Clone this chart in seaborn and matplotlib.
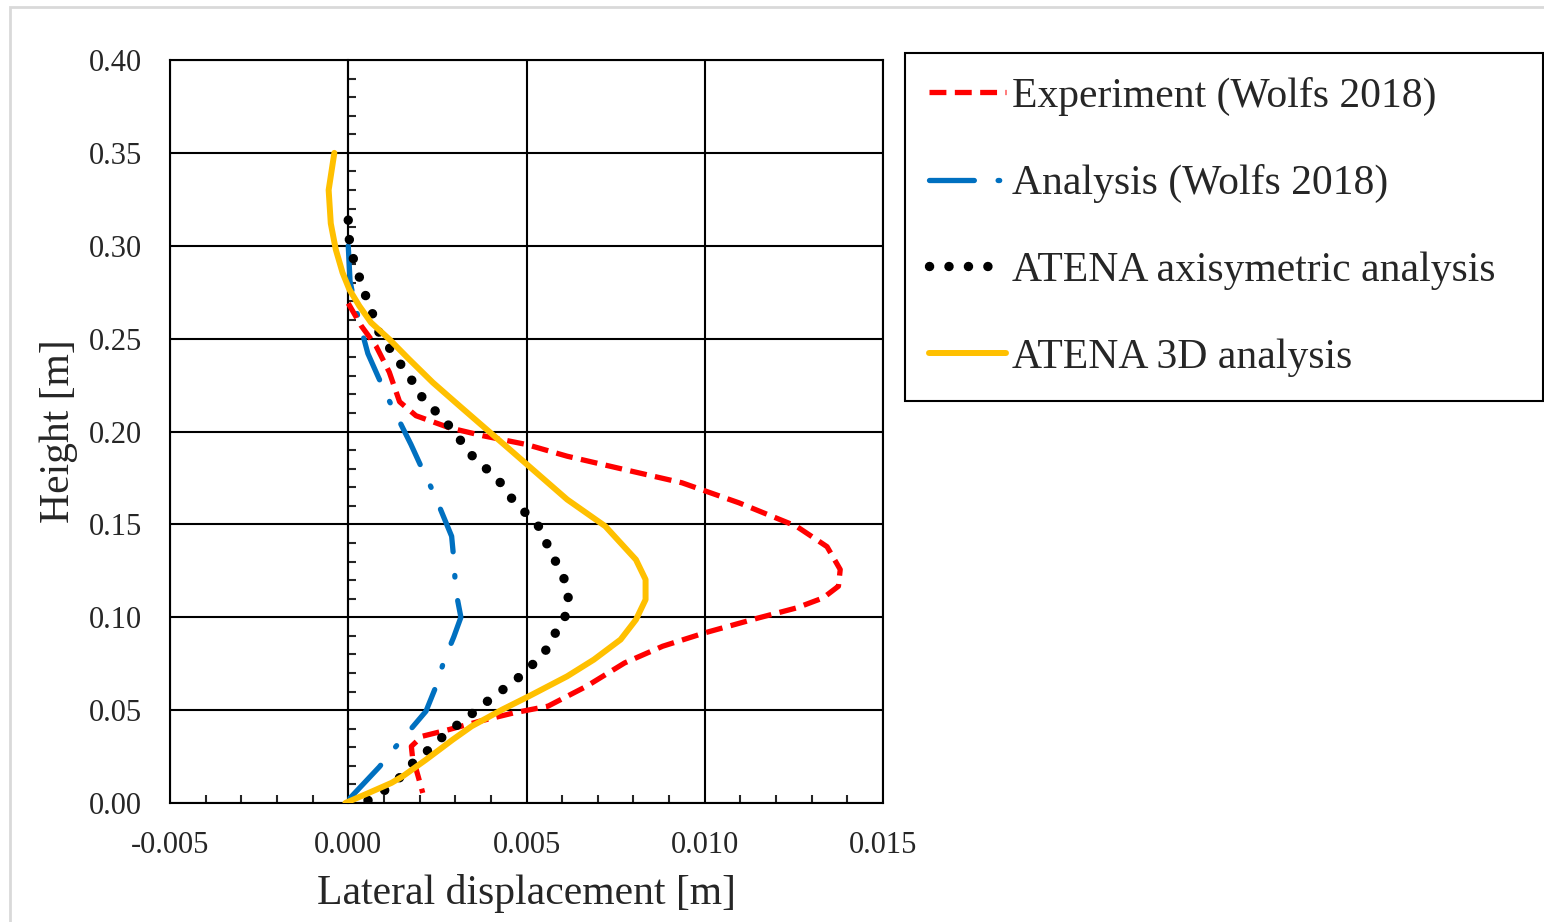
import pandas as pd
import matplotlib.pyplot as plt
import seaborn as sns
from matplotlib.ticker import MultipleLocator, FormatStrFormatter
from matplotlib.patches import Rectangle

# Experiment (Wolfs 2018)
exp_x = [0.0, 0.00036, 0.00078, 0.00115, 0.00144, 0.0019, 0.00284, 0.00378, 0.005, 0.00614,
         0.00775, 0.00936, 0.01096, 0.01257, 0.01343, 0.0138, 0.01375, 0.01332, 0.01257, 0.0115,
         0.0100, 0.00882, 0.00775, 0.00668, 0.0056, 0.00464, 0.00368, 0.00282, 0.00207, 0.00177,
         0.0018, 0.00196, 0.00209]
exp_y = [0.269, 0.257, 0.246, 0.232, 0.216, 0.2085, 0.202, 0.1977, 0.193, 0.1867,
         0.1795, 0.1724, 0.1616, 0.149, 0.138, 0.1257, 0.1167, 0.1104, 0.105, 0.0996,
         0.0916, 0.0844, 0.0754, 0.0628, 0.0521, 0.0485, 0.044, 0.0395, 0.0359, 0.0305,
         0.0251, 0.0144, 0.0054]

# Analysis (Wolfs 2018)
ana_x = [0.0, 0.00005, 0.0002, 0.00055, 0.00085, 0.00115, 0.00176, 0.00207, 0.00239, 0.0029,
         0.00297, 0.00301, 0.00316, 0.00296, 0.00269, 0.00247, 0.00218, 0.0018, 0.00134, 0.00087,
         -0.00008]
ana_y = [0.300, 0.281, 0.267, 0.242, 0.229, 0.2165, 0.193, 0.180, 0.1673, 0.1436,
         0.1293, 0.1149, 0.100, 0.0894, 0.0768, 0.0632, 0.0494, 0.0408, 0.0305, 0.0194,
         0.0]

# ATENA axisymetric analysis
axi_x = [0.0, 0.00003, 0.00014, 0.00031, 0.00048, 0.00067, 0.00084, 0.00113, 0.0014, 0.00172,
         0.00197, 0.00231, 0.00265, 0.00301, 0.00329, 0.00363, 0.00404, 0.00437, 0.00465, 0.005,
         0.00535, 0.00556, 0.00576, 0.00598, 0.00614, 0.00618, 0.00607, 0.0058, 0.00557, 0.00524,
         0.00482, 0.00439, 0.00394, 0.0035, 0.00307, 0.00264, 0.00224, 0.00181, 0.00145, 0.00102,
         0.00051]
axi_y = [0.3138, 0.3034, 0.2932, 0.2832, 0.2735, 0.264, 0.2541, 0.2457, 0.238, 0.2299,
         0.2206, 0.2138, 0.2066, 0.1995, 0.1909, 0.1837, 0.1774, 0.1702, 0.1621, 0.1557,
         0.1487, 0.140, 0.132, 0.1244, 0.1163, 0.1083, 0.0996, 0.0912, 0.0829, 0.0758,
         0.0682, 0.0618, 0.0553, 0.0485, 0.0422, 0.0355, 0.0284, 0.0215, 0.0138, 0.0068,
         0.0009]

# ATENA 3D analysis
a3d_x = [-0.00039, -0.00055, -0.00049, -0.00035, -0.00016, 0.00003, 0.00031, 0.00064, 0.00115, 0.0017,
         0.00237, 0.00312, 0.00387, 0.00455, 0.00614, 0.00721, 0.00807, 0.00834, 0.00834, 0.00807,
         0.00764, 0.00689, 0.00614, 0.00507, 0.00432, 0.00346, 0.00293, 0.00218, 0.00153, 0.00121,
         0.00057, -0.00008]
a3d_y = [0.35, 0.33, 0.312, 0.298, 0.2855, 0.2765, 0.2676, 0.2586, 0.2497, 0.239,
         0.2264, 0.2138, 0.2013, 0.19, 0.1634, 0.149, 0.131, 0.1203, 0.1095, 0.0987,
         0.088, 0.0772, 0.0682, 0.0575, 0.0503, 0.0413, 0.0341, 0.0233, 0.0144, 0.0108,
         0.0054, 0.0]

labels = ["Experiment (Wolfs 2018)", "Analysis (Wolfs 2018)",
          "ATENA axisymetric analysis", "ATENA 3D analysis"]

sns.set_style("white")
plt.rcParams['font.family'] = ['Liberation Serif', 'DejaVu Serif']
plt.rcParams['axes.unicode_minus'] = False

fig = plt.figure(figsize=(15.44, 9.22), dpi=100)
ax = fig.add_axes([170 / 1544, 1 - 803 / 922, 713 / 1544, 743 / 922])

sns.lineplot(x=exp_x, y=exp_y, sort=False, estimator=None, ax=ax, color='#FF0000',
             linewidth=3.8, linestyle=(0, (3.2, 1.6)), label=labels[0], zorder=4)
sns.lineplot(x=ana_x, y=ana_y, sort=False, estimator=None, ax=ax, color='#0070C0',
             linewidth=3.8, linestyle=(0, (8.5, 4.5, 0.3, 4.5)), dash_capstyle='round',
             label=labels[1], zorder=3)
sns.lineplot(x=axi_x, y=axi_y, sort=False, estimator=None, ax=ax, color='black',
             linewidth=6.8, linestyle=(0, (0.01, 2.05)), dash_capstyle='round',
             label=labels[2], zorder=5)
sns.lineplot(x=a3d_x, y=a3d_y, sort=False, estimator=None, ax=ax, color='#FFC000',
             linewidth=4.3, label=labels[3], zorder=6)

ax.set_xlim(-0.005, 0.015)
ax.set_ylim(0, 0.40)
ax.xaxis.set_major_locator(MultipleLocator(0.005))
ax.xaxis.set_minor_locator(MultipleLocator(0.001))
ax.yaxis.set_major_locator(MultipleLocator(0.05))
ax.xaxis.set_major_formatter(FormatStrFormatter('%.3f'))
ax.yaxis.set_major_formatter(FormatStrFormatter('%.2f'))
ax.grid(True, which='major', color='black', linewidth=1.5)
ax.tick_params(which='major', length=0, labelsize=22, pad=20)
ax.tick_params(axis='x', which='minor', direction='in', length=6, width=1.5, bottom=True)
for s in ax.spines.values():
    s.set_color('black')
    s.set_linewidth(1.5)

# minor ticks on the zero line
sec = ax.secondary_yaxis(0.25)
sec.yaxis.set_major_locator(MultipleLocator(0.05))
sec.yaxis.set_minor_locator(MultipleLocator(0.01))
sec.tick_params(which='major', length=0, labelleft=False, labelright=False)
sec.tick_params(which='minor', direction='in', length=6, width=1.5)
for s in sec.spines.values():
    s.set_linewidth(1.5)

ax.set_xlabel("Lateral displacement [m]", fontsize=30, labelpad=10)
ax.set_ylabel("Height [m]", fontsize=30, labelpad=8)

handles, labs = ax.get_legend_handles_labels()
ax.get_legend().remove()
leg = fig.legend(handles, labs, loc='upper left',
                 bbox_to_anchor=(905 / 1544, 1 - 402 / 922, 638 / 1544, 349 / 922), mode='expand',
                 borderaxespad=0, fontsize=30, frameon=True, fancybox=False, framealpha=1,
                 edgecolor='black', borderpad=0.57, labelspacing=1.16, handlelength=1.85,
                 handletextpad=0.15)
leg.get_frame().set_linewidth(1.5)

fig.patches.append(Rectangle((10 / 1544, -0.1), 1.2, 1.1 - 7 / 922, transform=fig.transFigure,
                             fill=False, edgecolor='#D9D9D9', linewidth=2))

fig.savefig('out.png', dpi=100)
